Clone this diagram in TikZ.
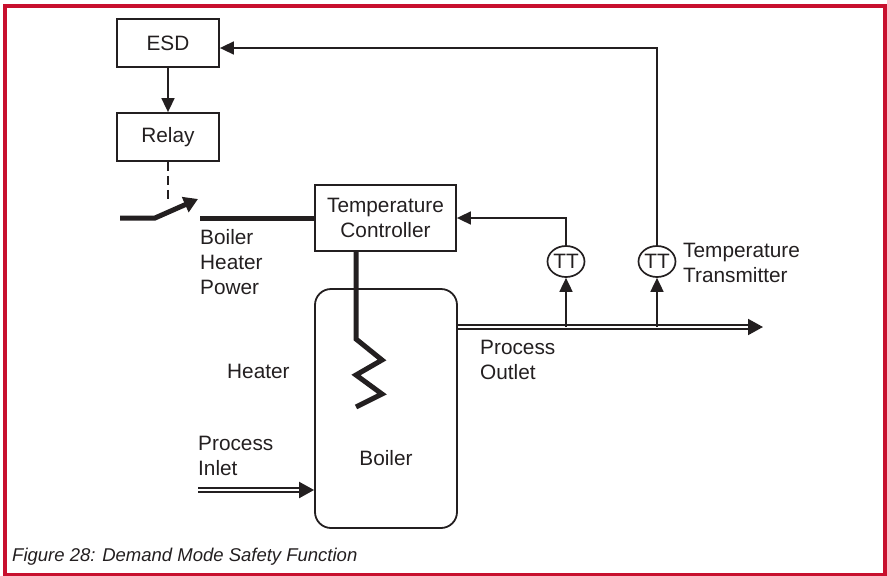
\documentclass[tikz,border=0pt]{standalone}
\usepackage{fontspec}
\setmainfont{Liberation Sans}
\usetikzlibrary{arrows.meta,shapes.geometric}
\definecolor{framered}{HTML}{C8102E}
\definecolor{ink}{HTML}{231F20}
\begin{document}
\begin{tikzpicture}[x=1pt,y=-1pt,
  every node/.style={font=\fontsize{20.8}{25}\selectfont, text=ink},
  box/.style={draw=ink, line width=1.8pt, inner sep=0pt, align=center},
  ttnode/.style={draw=ink, ellipse, line width=1.7pt, inner sep=0pt, minimum width=37pt, minimum height=31pt},
  thinln/.style={draw=ink, line width=1.7pt},
  heavy/.style={draw=ink, line width=5pt},
  dbl/.style={draw=ink, double=white, line width=2pt, double distance=2pt},
  tip/.style={-{Triangle[length=14pt,width=13pt]}},
  bigtip/.style={-{Triangle[length=15pt,width=16pt]}},
  lbl/.style={align=left, anchor=north west, inner sep=0pt},
  ]
\useasboundingbox (0,0) rectangle (887,576);
\draw[framered, line width=3.6pt] (5.2,5.7) rectangle (885,574.5);

% boxes
\node[box, minimum width=102pt, minimum height=48pt] (esd) at (168,43) {ESD};
\node[box, minimum width=102pt, minimum height=48pt] (relay) at (168,137) {Relay};
\node[box, minimum width=141pt, minimum height=66pt] (tc) at (385.5,218) {Temperature\\Controller};
\node[box, rounded corners=16pt, minimum width=142pt, minimum height=239pt] (boiler) at (386,408.5) {};
\node (boilertxt) at (386,458) {Boiler};
\node[ttnode] (tt1) at (566,261.5) {TT};
\node[ttnode] (tt2) at (657,261.5) {TT};

% ESD -> Relay
\draw[thinln, tip] (esd.south) -- (relay.north);

% switch
\coordinate (swtop) at (168,202);
\draw[thinln, dash pattern=on 9pt off 5pt] (relay.south) -- (swtop);
\coordinate (s1) at (120,218);
\coordinate (s2) at (155,218);
\coordinate (s3) at (198,199);
\draw[heavy, -{Triangle[length=14pt,width=16pt]}] (s1) -- (s2) -- (s3);
\coordinate (p1) at (200,218);
\draw[heavy] (p1) -- (tc.west);

% heater
\coordinate (h1) at (356,339);
\draw[heavy, line join=miter] (tc.south -| h1) -- (h1) -- (382,360) -- (356,375) -- (382,394) -- (356,407);

% outlet
\coordinate (out) at (763,327);
\draw[dbl, bigtip] (boiler.east |- out) -- (out);

% inlet
\coordinate (in) at (198,490);
\draw[dbl, bigtip] (in) -- (in -| boiler.west);

% transmitters
\draw[thinln, tip] (tt1 |- out) -- (tt1.south);
\draw[thinln, tip] (tt1.north) |- (tc.east);
\draw[thinln, tip] (tt2 |- out) -- (tt2.south);
\draw[thinln, tip] (tt2.north) |- ([yshift=-5pt]esd.east);

% labels
\node[lbl] (lpower) at (200,229.5) {Boiler\\Heater\\Power};
\node[lbl] (lheater) at (227,363.5) {Heater};
\node[lbl] (linlet) at (198,435.5) {Process\\Inlet};
\node[lbl] (loutlet) at (480,339.5) {Process\\Outlet};
\node[lbl] (ltt) at (683,242.5) {Temperature\\Transmitter};
\node[lbl, font=\fontsize{18.5}{22}\selectfont\itshape] (cap) at (12,548) {Figure 28: Demand Mode Safety Function};
\end{tikzpicture}
\end{document}
